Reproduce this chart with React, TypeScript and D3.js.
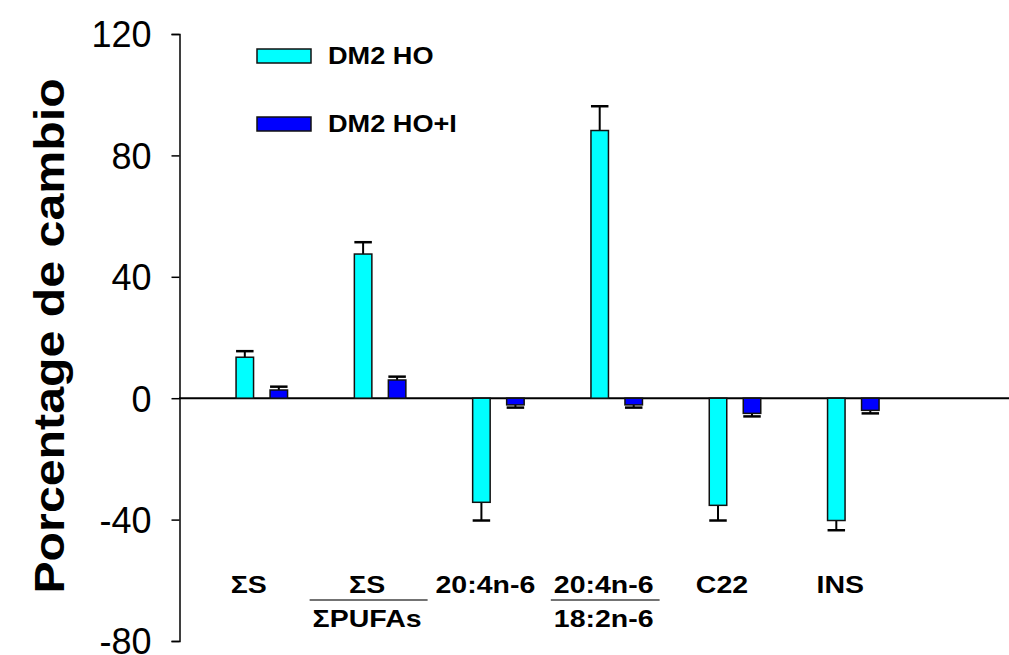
import { useRef, useEffect } from "react";
import * as d3 from "d3";

const W = 1009;
const H = 655;

// data
const categories = ["S", "S/PUFAs", "20:4n-6", "20:4n-6/18:2n-6", "C22", "INS"];
const dm2HO = [13.5, 47.5, -34.3, 88.2, -35.3, -40.3];
const dm2HOErr = [2.0, 3.9, 6.0, 8.0, 5.0, 3.2];
const dm2HOI = [2.7, 6.0, -2.2, -2.2, -5.0, -4.0];
const dm2HOIErr = [1.1, 1.1, 0.9, 0.9, 1.0, 1.0];
const seriesNames = ["DM2 HO", "DM2 HO+I"];
const seriesColors = ["#00ffff", "#0000ff"];
const yTicks = [-80, -40, 0, 40, 80, 120];

const FONT = "'Liberation Sans', Arial, sans-serif";

export default function App() {
  const svgRef = useRef<SVGSVGElement>(null);

  useEffect(() => {
    const svg = d3.select(svgRef.current);
    svg.selectAll("*").remove();

    const y = d3.scaleLinear().domain([-80, 120]).range([641, 34]);
    const x = d3.scaleLinear().domain([-0.7, 6.24]).range([179, 1000]);
    const barW = 17.5;
    const off = 17;

    // y axis
    const yAxis = d3.axisLeft(y)
      .tickValues(yTicks)
      .tickFormat((d) => String(d))
      .tickSize(8)
      .tickSizeOuter(8)
      .tickPadding(20);
    const gy = svg.append("g").attr("transform", "translate(179.5,0)").call(yAxis);
    gy.select(".domain").attr("stroke", "#000").attr("stroke-width", 1.5);
    gy.selectAll(".tick line").attr("stroke", "#000").attr("stroke-width", 1.5);
    gy.selectAll(".tick text")
      .attr("font-family", FONT)
      .attr("font-size", 36)
      .attr("fill", "#000")
      .attr("dy", "0.36em");

    svg.append("text")
      .attr("transform", "translate(64,336) rotate(-90) scale(1.15,1)")
      .attr("text-anchor", "middle")
      .attr("font-family", FONT)
      .attr("font-weight", "bold")
      .attr("font-size", 42)
      .text("Porcentage de cambio");

    // zero line
    svg.append("line")
      .attr("x1", 179).attr("x2", W)
      .attr("y1", y(0)).attr("y2", y(0))
      .attr("stroke", "#000").attr("stroke-width", 2);

    const series = [
      { vals: dm2HO, errs: dm2HOErr, color: seriesColors[0], dx: -off },
      { vals: dm2HOI, errs: dm2HOIErr, color: seriesColors[1], dx: off },
    ];

    series.forEach((s) => {
      const g = svg.append("g");
      // error bars (one-sided, away from zero)
      g.selectAll(".err")
        .data(s.vals)
        .join("line")
        .attr("x1", (_, i) => x(i) + s.dx)
        .attr("x2", (_, i) => x(i) + s.dx)
        .attr("y1", (v) => y(v))
        .attr("y2", (v, i) => y(v + Math.sign(v) * s.errs[i]))
        .attr("stroke", "#000").attr("stroke-width", 2);
      g.selectAll(".cap")
        .data(s.vals)
        .join("line")
        .attr("x1", (_, i) => x(i) + s.dx - barW / 2)
        .attr("x2", (_, i) => x(i) + s.dx + barW / 2)
        .attr("y1", (v, i) => y(v + Math.sign(v) * s.errs[i]))
        .attr("y2", (v, i) => y(v + Math.sign(v) * s.errs[i]))
        .attr("stroke", "#000").attr("stroke-width", 2.5);
      g.selectAll(".bar")
        .data(s.vals)
        .join("rect")
        .attr("x", (_, i) => x(i) + s.dx - barW / 2)
        .attr("width", barW)
        .attr("y", (v) => y(Math.max(0, v)))
        .attr("height", (v) => Math.abs(y(v) - y(0)))
        .attr("fill", s.color)
        .attr("stroke", "#111").attr("stroke-width", 1.5);
    });

    // category labels (stretched bold text like the original)
    const lab = svg.append("g")
      .attr("font-family", FONT)
      .attr("font-weight", "bold")
      .attr("font-size", 23)
      .attr("text-anchor", "middle");
    const base = 593;
    const sx = 1.24;
    const fmt = (t: string) => (t === "S" || t === "PUFAs" ? "\u03A3" + t : t);
    categories.forEach((c, i) => {
      const cx = x(i) - 13;
      const parts = c.split("/");
      const t1 = lab.append("text")
        .attr("transform", `translate(${cx},${base}) scale(${sx},1)`)
        .text(fmt(parts[0]));
      if (parts.length > 1) {
        const t2 = lab.append("text")
          .attr("transform", `translate(${cx},${base + 34}) scale(${sx},1)`)
          .text(fmt(parts[1]));
        const w = Math.max(
          (t1.node() as SVGTextElement).getComputedTextLength(),
          (t2.node() as SVGTextElement).getComputedTextLength()
        ) * sx;
        lab.append("line")
          .attr("x1", cx - w / 2 - 3).attr("x2", cx + w / 2 + 6)
          .attr("y1", base + 7).attr("y2", base + 7)
          .attr("stroke", "#444").attr("stroke-width", 1.5);
      }
    });

    // legend
    const leg = svg.append("g");
    seriesNames.forEach((n, i) => {
      const ly = 56 + i * 68;
      leg.append("rect")
        .attr("x", 257).attr("y", ly - 7)
        .attr("width", 54).attr("height", 14)
        .attr("fill", seriesColors[i])
        .attr("stroke", "#111").attr("stroke-width", 1.5);
      leg.append("text")
        .attr("transform", `translate(328,${ly + 8}) scale(1.18,1)`)
        .attr("font-family", FONT)
        .attr("font-weight", "bold")
        .attr("font-size", 23)
        .text(n);
    });
  }, []);

  return (
    <svg
      ref={svgRef}
      width={W}
      height={H}
      style={{ position: "absolute", left: 0, top: 0, background: "#fff" }}
    />
  );
}
